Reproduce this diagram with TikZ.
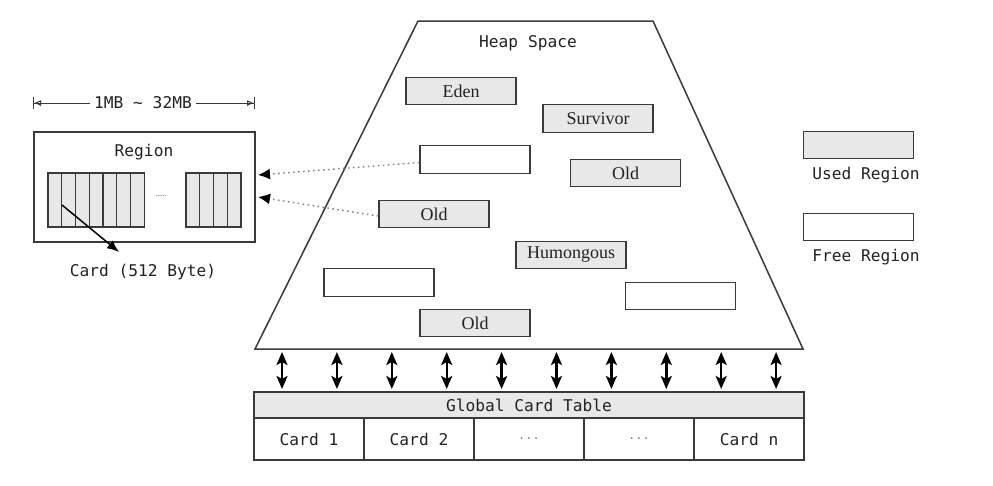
\documentclass[tikz,border=0pt]{standalone}
\usepackage{fontspec}
\setmainfont{Liberation Serif}
\setmonofont{DejaVu Sans Mono}
\usetikzlibrary{arrows.meta,calc}
\definecolor{lc}{HTML}{3A3A3A}
\definecolor{ug}{HTML}{E8E8E8}
\definecolor{tc}{HTML}{222222}
\tikzset{
  reg/.style={draw=lc,line width=1.4pt,minimum width=110pt,minimum height=27.5pt,inner sep=0pt,
    font=\fontsize{18}{18}\selectfont,text=tc},
  used/.style={reg,fill=ug},
  free/.style={reg,fill=white},
  mono/.style={font=\ttfamily\fontsize{16.2}{16.2}\selectfont,text=tc,inner sep=0pt},
  cell/.style={draw=lc,line width=1.2pt,fill=ug,minimum width=13.75pt,minimum height=54pt,inner sep=0pt},
  dbl/.style={{Stealth[length=13pt,width=11pt,inset=3pt]}-{Stealth[length=13pt,width=11pt,inset=3pt]},line width=2.4pt,draw=black},
  ptr/.style={-{Latex[length=12pt,width=11pt,color=black]},line width=1.4pt,dash pattern=on 1.6pt off 3.4pt,draw=gray},
  tab/.style={draw=lc,line width=1.2pt,inner sep=0pt},
}
\begin{document}
\begin{tikzpicture}[x=1pt,y=-1pt]
\useasboundingbox (0,0) rectangle (993,485);
% heap trapezoid
\draw[lc,line width=1.5pt,line join=miter] (418,21) -- (653,21) -- (803,349) -- (255,349) -- cycle;
\node[mono] (heap) at (528,43) {Heap Space};
% regions in heap
\node[used] (eden) at (461,91) {Eden};
\node[used] (surv) at (598,118.5) {Survivor};
\node[free] (e1)   at (475,159.5) {};
\node[used] (o1)   at (625.5,173) {Old};
\node[used] (o2)   at (434,214) {Old};
\node[used] (hum)  at (571,255) {Humongous};
\node[free] (e2)   at (379,282.5) {};
\node[free] (e3)   at (680.5,296) {};
\node[used] (o3)   at (475,323) {Old};
% region box on the left
\node[draw=lc,line width=1.4pt,minimum width=221pt,minimum height=110pt,inner sep=0pt] (rbox) at (144.5,187) {};
\node[mono] (rlab) at (144,152) {Region};
\foreach \i in {0,...,6} {
  \node[cell] (ca\i) at ({54.9+13.75*\i},200) {};
}
\foreach \i in {0,...,3} {
  \node[cell] (cb\i) at ({192.9+13.75*\i},200) {};
}
\node[font=\bfseries\fontsize{7}{7}\selectfont,text=gray,inner sep=0pt] (dots) at (161,196) {......};
\node[mono] (cardlab) at (143,272) {Card (512 Byte)};
\coordinate (cst) at (62,205);
\coordinate (cen) at (119,252);
\draw[-{Latex[length=12pt,width=10pt]},line width=1.5pt,black] (cst) -- (cen);
% dimension line
\node[mono,fill=white,inner xsep=4pt] (dim) at (143,103) {1MB \textasciitilde{} 32MB};
\coordinate (dl) at (33,103);
\coordinate (dr) at (255,103);
\draw[arrows={Bar[width=12pt] Latex[length=7pt,width=6pt,open]-},line width=1pt,lc] (dl) -- (dim.west);
\draw[arrows={-Latex[length=7pt,width=6pt,open] Bar[width=12pt]},line width=1pt,lc] (dim.east) -- (dr);
% dotted pointers
\coordinate (t1) at (258,175);
\coordinate (t2) at (258,197);
\draw[ptr] ([yshift=-3pt]e1.west) -- (t1);
\draw[ptr] ([yshift=-2pt]o2.west) -- (t2);
% legend
\node[used] (lu) at (858.5,145) {};
\node[mono] (lut) at (866,175.5) {Used Region};
\node[free] (lf) at (858.5,227) {};
\node[mono] (lft) at (866,257.5) {Free Region};
% global card table
\node[tab,fill=ug,minimum width=550pt,minimum height=26pt] (gct) at (529,405) {};
\node[mono] (gctl) at (529,405) {Global Card Table};
\node[tab,minimum width=110pt,minimum height=42pt,mono] (k1) at (309,439) {Card 1};
\node[tab,minimum width=110pt,minimum height=42pt,mono] (k2) at (419,439) {Card 2};
\node[tab,minimum width=110pt,minimum height=42pt,mono,text=gray,font=\ttfamily\fontsize{12}{12}\selectfont] (k3) at (529,439) {...};
\node[tab,minimum width=110pt,minimum height=42pt,mono,text=gray,font=\ttfamily\fontsize{12}{12}\selectfont] (k4) at (639,439) {...};
\node[tab,minimum width=110pt,minimum height=42pt,mono] (k5) at (749,439) {Card n};
% double arrows between heap and card table
\foreach \i in {0,...,9} {
  \coordinate (ua\i) at ({282+54.9*\i},352);
  \coordinate (la\i) at ({282+54.9*\i},389);
  \draw[dbl] (ua\i) -- (la\i);
}
\end{tikzpicture}
\end{document}
